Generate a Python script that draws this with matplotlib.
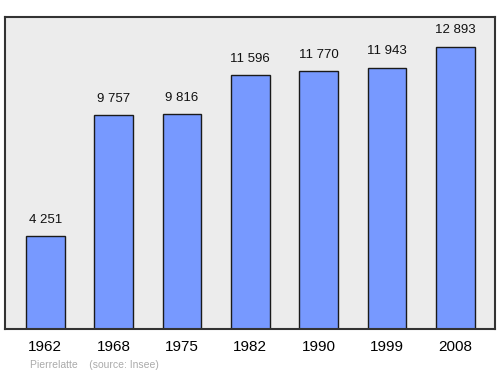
import matplotlib.pyplot as plt

plt.rcParams['font.family'] = ['Liberation Sans', 'DejaVu Sans']

years = ['1962', '1968', '1975', '1982', '1990', '1999', '2008']
population = [4251, 9757, 9816, 11596, 11770, 11943, 12893]
labels = ['4 251', '9 757', '9 816', '11 596', '11 770', '11 943', '12 893']

fig = plt.figure(figsize=(5, 3.74), dpi=100)
ax = fig.add_axes([0.01, 0.12, 0.98, 0.835])
ax.set_facecolor('#ececec')

x = range(len(years))
ax.bar(x, population, width=0.57, color='#7799ff', edgecolor='#1a1a1a', linewidth=1)
for i, (v, t) in enumerate(zip(population, labels)):
    ax.text(i, v + 480, t, ha='center', va='bottom', fontsize=9.5, color='#111111')

ax.set_xlim(-0.59, 6.58)
ax.set_ylim(0, 14260)
ax.set_xticks(list(x))
ax.set_xticklabels(years, fontsize=11)
ax.tick_params(axis='x', length=0, pad=8)
ax.set_yticks([])
for s in ax.spines.values():
    s.set_linewidth(1.5)
    s.set_color('#333333')

fig.text(0.06, 0.016, 'Pierrelatte    (source: Insee)', fontsize=7.5, color='#aaaaaa')
fig.savefig('out.png')
